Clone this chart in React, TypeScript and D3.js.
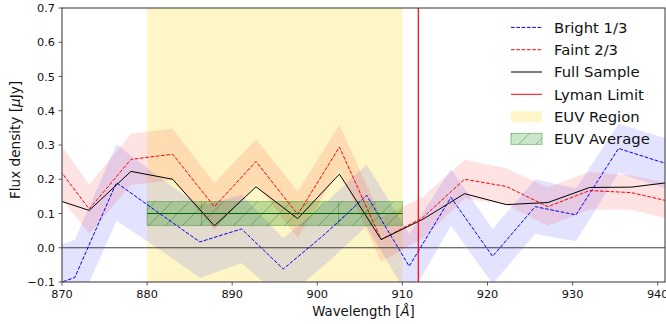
import React from 'react';
import * as d3 from 'd3';

const W = 666;
const H = 324;

// Bright 1/3 subsample (wavelength grid, flux, 1-sigma)
const brightWave = [866.6, 871.5, 876.4, 881.3, 886.2, 891.1, 896.0, 900.9, 905.8, 910.8, 915.7, 920.6, 925.6, 930.4, 935.4, 940.3, 945.2];
const brightFlux = [-0.13, -0.087, 0.19, 0.103, 0.017, 0.055, -0.062, 0.04, 0.153, -0.054, 0.147, -0.025, 0.12, 0.096, 0.29, 0.251, 0.22];
const brightErr = [0.11, 0.11, 0.112, 0.105, 0.105, 0.1, 0.09, 0.09, 0.09, 0.095, 0.083, 0.08, 0.08, 0.077, 0.072, 0.073, 0.073];

// Faint 2/3 and full sample share a grid
const sampleWave = [868.3, 873.2, 878.1, 883.0, 887.9, 892.8, 897.7, 902.6, 907.5, 912.4, 917.3, 922.2, 927.1, 932.0, 936.9, 941.8];
const faintFlux = [0.274, 0.113, 0.258, 0.273, 0.12, 0.252, 0.097, 0.294, 0.024, 0.088, 0.2, 0.179, 0.12, 0.167, 0.161, 0.133];
const faintErr = [0.08, 0.072, 0.075, 0.075, 0.068, 0.065, 0.068, 0.065, 0.065, 0.06, 0.057, 0.053, 0.056, 0.055, 0.05, 0.053];
const fullFlux = [0.149, 0.109, 0.223, 0.2, 0.064, 0.178, 0.085, 0.215, 0.024, 0.083, 0.158, 0.126, 0.132, 0.176, 0.177, 0.192];

const euvRegion = [880, 910];
const euvAverage = [0.1];
const euvAverageErr = [0.035];
const euvSplits = [886.4, 902.5];
const lymanLimit = [911.87];

const xTicks = [870, 880, 890, 900, 910, 920, 930, 940];
const yTicks = [-0.1, 0, 0.1, 0.2, 0.3, 0.4, 0.5, 0.6, 0.7];
const legendLabels = ['Bright 1/3', 'Faint 2/3', 'Full Sample', 'Lyman Limit', 'EUV Region', 'EUV Average'];

const FONT = 'DejaVu Sans, sans-serif';

export default function App() {
  const left = 62, right = 665, top = 8, bottom = 282;
  const x = d3.scaleLinear().domain([870, 940.86]).range([left, right]);
  const y = d3.scaleLinear().domain([-0.1, 0.7]).range([bottom, top]);

  const band = (wave: number[], flux: number[], err: number[]) =>
    d3.area<number>()
      .x((_, i) => x(wave[i]))
      .y0((d, i) => y(d - err[i]))
      .y1((d, i) => y(d + err[i]))(flux) || '';
  const line = (wave: number[], flux: number[]) =>
    d3.line<number>().x((_, i) => x(wave[i])).y((d) => y(d))(flux) || '';

  const fmt = d3.format('.1f');
  const dash = '3.7,1.6';
  const legendY0 = 27.4, legendStep = 22.3;
  const hx0 = 511, hx1 = 542, tx = 554;

  return (
    <svg width={W} height={H} style={{ position: 'absolute', left: 0, top: 0, display: 'block', background: '#fff' }}
      fontFamily={FONT}>
      <defs>
        <clipPath id="plot">
          <rect x={left} y={top} width={right - left} height={bottom - top} />
        </clipPath>
        <pattern id="hatch" patternUnits="userSpaceOnUse" width={17} height={17}>
          <path d="M0,17 L17,0 M-4,4 L4,-4 M13,21 L21,13" stroke="rgba(0,110,0,0.35)" strokeWidth={1} />
        </pattern>
      </defs>

      <g clipPath="url(#plot)">
        <rect x={x(euvRegion[0])} y={top} width={x(euvRegion[1]) - x(euvRegion[0])} height={bottom - top}
          fill="rgb(255,215,0)" fillOpacity={0.22} />
        <path d={band(brightWave, brightFlux, brightErr)} fill="rgb(0,0,255)" fillOpacity={0.11} />
        <path d={band(sampleWave, faintFlux, faintErr)} fill="rgb(255,0,0)" fillOpacity={0.11} />
        <rect x={x(euvRegion[0])} y={y(euvAverage[0] + euvAverageErr[0])} width={x(euvRegion[1]) - x(euvRegion[0])}
          height={y(euvAverage[0] - euvAverageErr[0]) - y(euvAverage[0] + euvAverageErr[0])}
          fill="rgb(0,128,0)" fillOpacity={0.25} stroke="rgba(0,128,0,0.35)" strokeWidth={1} />
        <rect x={x(euvRegion[0])} y={y(euvAverage[0] + euvAverageErr[0])} width={x(euvRegion[1]) - x(euvRegion[0])}
          height={y(euvAverage[0] - euvAverageErr[0]) - y(euvAverage[0] + euvAverageErr[0])}
          fill="url(#hatch)" />
        {euvSplits.map((s) => (
          <line key={s} x1={x(s)} x2={x(s)} y1={y(euvAverage[0] + euvAverageErr[0])} y2={y(euvAverage[0] - euvAverageErr[0])}
            stroke="rgba(0,128,0,0.35)" strokeWidth={1} />
        ))}
        <line x1={left} x2={right} y1={y(0)} y2={y(0)} stroke="#222" strokeWidth={1} strokeOpacity={0.85} />
        <path d={line(brightWave, brightFlux)} fill="none" stroke="#0000ff" strokeWidth={1} strokeDasharray={dash} />
        <path d={line(sampleWave, faintFlux)} fill="none" stroke="#ff0000" strokeWidth={1} strokeDasharray={dash} />
        <path d={line(sampleWave, fullFlux)} fill="none" stroke="#000" strokeWidth={1} />
        <line x1={x(euvRegion[0])} x2={x(euvRegion[1])} y1={y(euvAverage[0])} y2={y(euvAverage[0])} stroke="#006400" strokeWidth={1.1} />
        <line x1={x(lymanLimit[0])} x2={x(lymanLimit[0])} y1={top} y2={bottom} stroke="#ff0000" strokeWidth={1.2} />
      </g>

      <rect x={left} y={top} width={right - left} height={bottom - top} fill="none" stroke="#333" strokeWidth={1} />

      {xTicks.map((t) => (
        <g key={t}>
          <line x1={x(t)} x2={x(t)} y1={bottom} y2={bottom + 3.5} stroke="#333" strokeWidth={0.8} />
          <text x={x(t)} y={298.3} fontSize={11.3} textAnchor="middle" fill="#111">{t}</text>
        </g>
      ))}
      {yTicks.map((t) => (
        <g key={t}>
          <line x1={left - 3.5} x2={left} y1={y(t)} y2={y(t)} stroke="#333" strokeWidth={0.8} />
          <text x={55} y={y(t) + 4} fontSize={11.3} textAnchor="end" fill="#111">{fmt(t).replace('-', '\u2212')}</text>
        </g>
      ))}

      <text x={(left + right) / 2} y={316} fontSize={13.3} textAnchor="middle" fill="#111">
        Wavelength [<tspan fontStyle="italic">Å</tspan>]
      </text>
      <text transform={`translate(19.5,140) rotate(-90)`} fontSize={13.6} textAnchor="middle" fill="#111">
        Flux density [<tspan fontStyle="italic">μ</tspan>Jy]
      </text>

      {legendLabels.map((lab, i) => {
        const cy = legendY0 + i * legendStep;
        let handle: React.ReactNode = null;
        if (i === 0) handle = <line x1={hx0} x2={hx1} y1={cy} y2={cy} stroke="#0000ff" strokeWidth={1} strokeDasharray={dash} />;
        else if (i === 1) handle = <line x1={hx0} x2={hx1} y1={cy} y2={cy} stroke="#ff0000" strokeWidth={1} strokeDasharray={dash} />;
        else if (i === 2) handle = <line x1={hx0} x2={hx1} y1={cy} y2={cy} stroke="#000" strokeWidth={1} />;
        else if (i === 3) handle = <line x1={hx0} x2={hx1} y1={cy} y2={cy} stroke="#ff0000" strokeWidth={1} />;
        else if (i === 4) handle = <rect x={hx0} y={cy - 5.5} width={hx1 - hx0} height={11} fill="rgb(255,215,0)" fillOpacity={0.22} />;
        else handle = (
          <g>
            <rect x={hx0} y={cy - 5.5} width={hx1 - hx0} height={11} fill="rgb(0,128,0)" fillOpacity={0.2} stroke="rgba(0,128,0,0.4)" strokeWidth={1} />
            <rect x={hx0} y={cy - 5.5} width={hx1 - hx0} height={11} fill="url(#hatch)" />
          </g>
        );
        return (
          <g key={lab}>
            {handle}
            <text x={tx} y={cy + 5.3} fontSize={14.8} fill="#111">{lab}</text>
          </g>
        );
      })}
    </svg>
  );
}
